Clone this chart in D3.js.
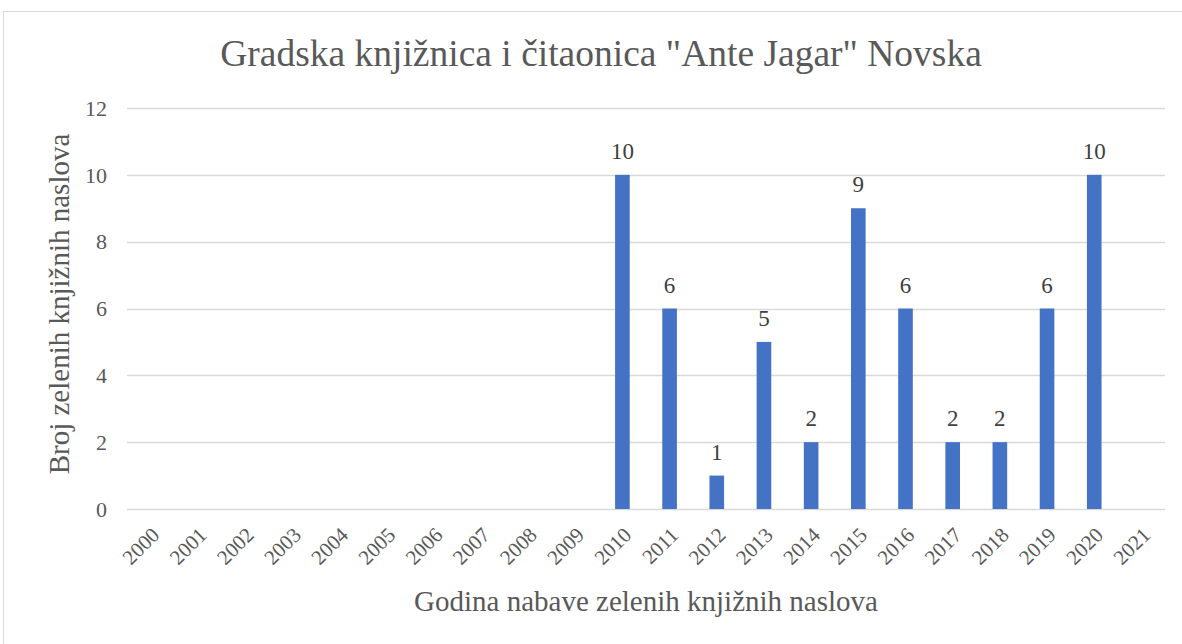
<!DOCTYPE html>
<html>
<head>
<meta charset="utf-8">
<script src="https://cdn.jsdelivr.net/npm/d3@7"></script>
</head>
<body style="margin:0">
<svg id="chart" width="1182" height="644" style="display:block"></svg>
<script>
var years = ['2000', '2001', '2002', '2003', '2004', '2005', '2006', '2007', '2008', '2009', '2010',
  '2011', '2012', '2013', '2014', '2015', '2016', '2017', '2018', '2019', '2020', '2021'];
var counts = [null, null, null, null, null, null, null, null, null, null, 10,
  6, 1, 5, 2, 9, 6, 2, 2, 6, 10, null];
var yTicks = [0, 2, 4, 6, 8, 10, 12];

var title = 'Gradska knjižnica i čitaonica "Ante Jagar" Novska';
var xTitle = 'Godina nabave zelenih knjižnih naslova';
var yTitle = 'Broj zelenih knjižnih naslova';

var data = years.map(function(y, i) { return {year: y, value: counts[i]}; });
var withValue = data.filter(function(d) { return d.value != null; });

var svg = d3.select('#chart');
var margin = {left: 127, right: 17, top: 108, bottom: 135};
var width = 1182 - margin.left - margin.right;
var height = 644 - margin.top - margin.bottom;
var textColor = '#595959';
var serif = '"Liberation Serif", "Times New Roman", Times, serif';

// all text goes through here so the font is set the same way everywhere
function label(sel, size, color) {
  return sel
    .attr('font-family', serif)
    .style('font-family', serif, 'important')
    .attr('font-size', size)
    .attr('fill', color || textColor);
}

// chart border
svg.append('rect')
  .attr('x', 3.5).attr('y', 11.5)
  .attr('width', 1182).attr('height', 640)
  .attr('fill', 'none').attr('stroke', '#d9d9d9');

var g = svg.append('g').attr('transform', 'translate(' + margin.left + ',' + margin.top + ')');

var x = d3.scaleBand().domain(years).range([0, width]).paddingInner(0.69).paddingOuter(0.345);
var y = d3.scaleLinear().domain([0, 12]).range([height, 0]);

// gridlines
g.append('g').selectAll('line')
  .data(yTicks)
  .join('line')
    .attr('x1', 0).attr('x2', width)
    .attr('y1', function(d) { return Math.round(y(d)) + 0.5; })
    .attr('y2', function(d) { return Math.round(y(d)) + 0.5; })
    .attr('stroke', '#d9d9d9').attr('stroke-width', 1.5);

// y tick labels
g.append('g').selectAll('text')
  .data(yTicks)
  .join('text')
    .attr('x', -20)
    .attr('y', function(d) { return y(d); })
    .attr('dy', '0.35em')
    .attr('text-anchor', 'end')
    .call(label, 22)
    .text(function(d) { return d; });

// bars
g.append('g').selectAll('rect')
  .data(withValue)
  .join('rect')
    .attr('x', function(d) { return x(d.year); })
    .attr('y', function(d) { return y(d.value); })
    .attr('width', x.bandwidth())
    .attr('height', function(d) { return y(0) - y(d.value); })
    .attr('fill', '#4472c4');

// data labels
g.append('g').selectAll('text')
  .data(withValue)
  .join('text')
    .attr('x', function(d) { return x(d.year) + x.bandwidth() / 2; })
    .attr('y', function(d) { return y(d.value) - 16; })
    .attr('text-anchor', 'middle')
    .call(label, 23, '#404040')
    .text(function(d) { return d.value; });

// x tick labels
g.append('g').selectAll('text')
  .data(years)
  .join('text')
    .attr('transform', function(d) {
      return 'translate(' + (x(d) + x.bandwidth() / 2 + 5) + ',' + (height + 22) + ') rotate(-45)';
    })
    .attr('text-anchor', 'end')
    .attr('dy', '0.35em')
    .call(label, 21)
    .text(function(d) { return d; });

// titles
svg.append('text')
  .attr('x', 601).attr('y', 66)
  .attr('text-anchor', 'middle')
  .call(label, 37.5)
  .text(title);

svg.append('text')
  .attr('x', 646).attr('y', 611)
  .attr('text-anchor', 'middle')
  .call(label, 29)
  .text(xTitle);

svg.append('text')
  .attr('transform', 'translate(69,304) rotate(-90)')
  .attr('text-anchor', 'middle')
  .call(label, 29)
  .text(yTitle);
</script>
</body>
</html>
